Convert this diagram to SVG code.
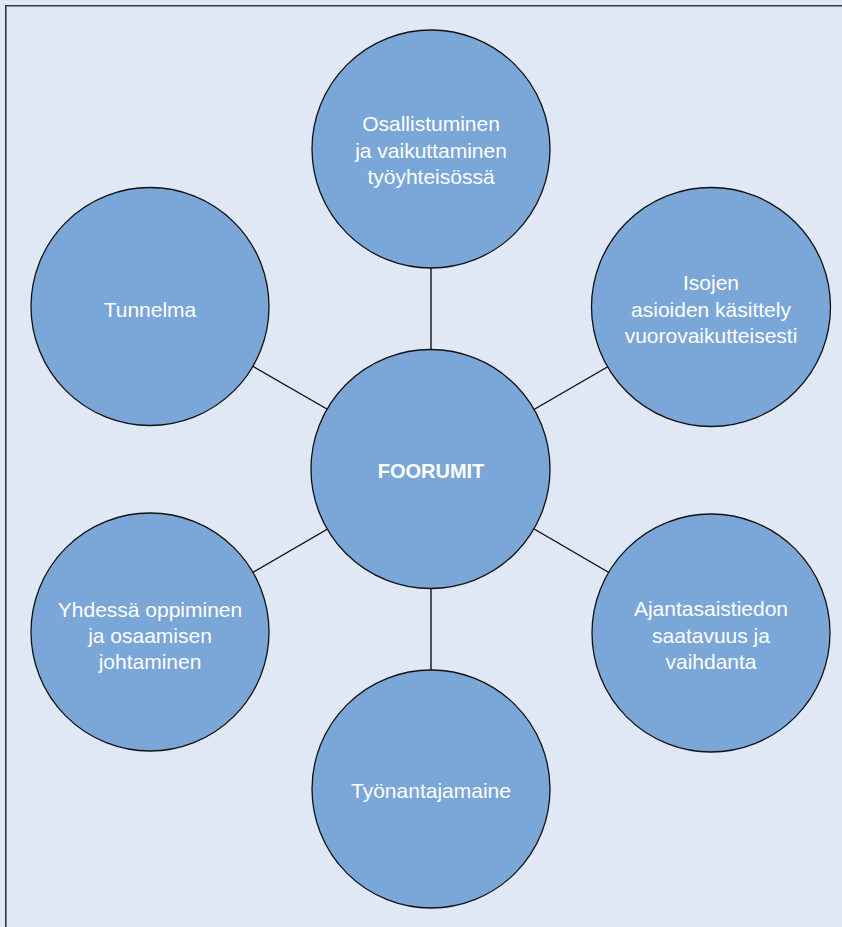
<svg xmlns="http://www.w3.org/2000/svg" width="842" height="927" viewBox="0 0 842 927">
  <style>
    .bg { fill: #e1e8f5; }
    .frame { stroke: #3a3a3a; stroke-width: 1.6; fill: none; }
    .node circle { fill: #7ba6d8; stroke: #111; stroke-width: 1.3; }
    .node text { fill: #ffffff; font-family: "Liberation Sans", Arial, sans-serif; font-size: 21px; text-anchor: middle; }
    .node text.hub { font-weight: bold; font-size: 20px; }
    .link { stroke: #111; stroke-width: 1.3; }
    .link.v { stroke: #404040; stroke-width: 1.8; }
  </style>

  <!-- panel background and frame -->
  <rect class="bg" x="0" y="0" width="842" height="927"/>
  <path class="frame" d="M5.8,927 V5.8 H842"/>

  <!-- spokes from the hub to each topic -->
  <g id="connectors">
    <line class="link v" x1="431" y1="149" x2="431" y2="469"/>
    <line class="link v" x1="431" y1="469" x2="431" y2="789"/>
    <line class="link" x1="150" y1="307" x2="431" y2="469"/>
    <line class="link" x1="711" y1="307" x2="431" y2="469"/>
    <line class="link" x1="150" y1="632" x2="431" y2="469"/>
    <line class="link" x1="711" y1="632" x2="431" y2="469"/>
  </g>

  <g id="node-foorumit" class="node">
    <circle cx="430.5" cy="469" r="119.5"/>
    <text class="hub" x="431" y="478">FOORUMIT</text>
  </g>

  <g id="node-osallistuminen" class="node">
    <circle cx="431" cy="149" r="119"/>
    <text x="431" y="131">Osallistuminen</text>
    <text x="431" y="158">ja vaikuttaminen</text>
    <text x="431" y="184">työyhteisössä</text>
  </g>

  <g id="node-isojen" class="node">
    <circle cx="711" cy="307" r="119.5"/>
    <text x="711" y="290">Isojen</text>
    <text x="711" y="317">asioiden käsittely</text>
    <text x="711" y="343">vuorovaikutteisesti</text>
  </g>

  <g id="node-tunnelma" class="node">
    <circle cx="150" cy="306.5" r="119"/>
    <text x="150" y="317">Tunnelma</text>
  </g>

  <g id="node-yhdessa" class="node">
    <circle cx="150" cy="632" r="119"/>
    <text x="150" y="617">Yhdessä oppiminen</text>
    <text x="150" y="643">ja osaamisen</text>
    <text x="150" y="669">johtaminen</text>
  </g>

  <g id="node-ajantasaistiedon" class="node">
    <circle cx="711" cy="633" r="119"/>
    <text x="711" y="616">Ajantasaistiedon</text>
    <text x="711" y="643">saatavuus ja</text>
    <text x="711" y="669">vaihdanta</text>
  </g>

  <g id="node-tyonantajamaine" class="node">
    <circle cx="431" cy="789" r="119"/>
    <text x="431" y="798">Työnantajamaine</text>
  </g>
</svg>
